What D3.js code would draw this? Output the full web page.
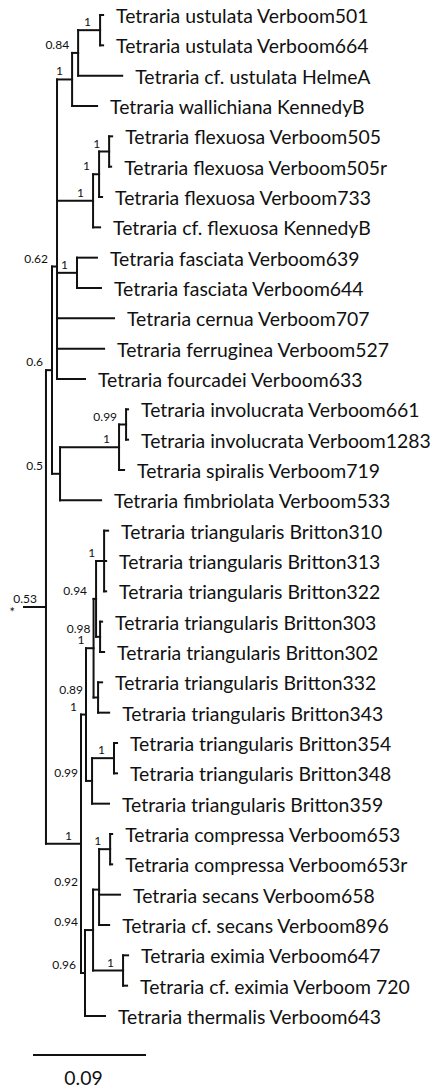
<!DOCTYPE html>
<html>
<head>
<meta charset="utf-8">
<script src="https://cdn.jsdelivr.net/npm/d3@7"></script>
<style>
  body { margin: 0; background: #fff; }
  text { font-family: Lato, "Noto Sans", sans-serif; fill: #111; }
</style>
</head>
<body>
<div id="chart"></div>
<script>
// tree as parent table (pre-order, child order = drawing order)
const nodeIds = [
  "root", "A", "B", "C", "E", "N084", "Nust",
  "Tetraria ustulata Verboom501", "Tetraria ustulata Verboom664",
  "Tetraria cf. ustulata HelmeA", "Tetraria wallichiana KennedyB",
  "F", "n2", "n1",
  "Tetraria flexuosa Verboom505", "Tetraria flexuosa Verboom505r",
  "Tetraria flexuosa Verboom733", "Tetraria cf. flexuosa KennedyB",
  "Nfas", "Tetraria fasciata Verboom639", "Tetraria fasciata Verboom644",
  "Tetraria cernua Verboom707", "Tetraria ferruginea Verboom527", "Tetraria fourcadei Verboom633",
  "D", "Ninv", "N099",
  "Tetraria involucrata Verboom661", "Tetraria involucrata Verboom1283",
  "Tetraria spiralis Verboom719", "Tetraria fimbriolata Verboom533",
  "G", "T", "U", "W", "Ntri1",
  "Tetraria triangularis Britton310", "Tetraria triangularis Britton313", "Tetraria triangularis Britton322",
  "N098", "Tetraria triangularis Britton303", "Tetraria triangularis Britton302",
  "X", "Tetraria triangularis Britton332", "Tetraria triangularis Britton343",
  "V", "Ntri354", "Tetraria triangularis Britton354", "Tetraria triangularis Britton348",
  "Tetraria triangularis Britton359",
  "K", "L", "M", "Ncomp",
  "Tetraria compressa Verboom653", "Tetraria compressa Verboom653r",
  "Tetraria secans Verboom658", "Tetraria cf. secans Verboom896",
  "Nexi", "Tetraria eximia Verboom647", "Tetraria cf. eximia Verboom 720",
  "Tetraria thermalis Verboom643"
];
const parentIds = [
  "", "root", "A", "B", "C", "E", "N084",
  "Nust", "Nust",
  "N084", "E",
  "C", "F", "n2",
  "n1", "n1",
  "n2", "F",
  "C", "Nfas", "Nfas",
  "C", "C", "C",
  "B", "D", "Ninv",
  "N099", "N099",
  "Ninv", "D",
  "A", "G", "T", "U", "W",
  "Ntri1", "Ntri1", "Ntri1",
  "W", "N098", "N098",
  "U", "X", "X",
  "T", "V", "Ntri354", "Ntri354",
  "V",
  "G", "K", "L", "M",
  "Ncomp", "Ncomp",
  "M", "M",
  "L", "Nexi", "Nexi",
  "K"
];
const branchLengths = [
  0, 0.0175, 0.0048, 0.0040, 0.0120, 0.0048, 0.0175,
  0.0024, 0.0024,
  0.0351, 0.0199,
  0.0287, 0.0048, 0.0080,
  0.0024, 0.0016,
  0.0024, 0.0056,
  0.0159, 0.0159, 0.0191,
  0.0454, 0.0375, 0.0223,
  0.0064, 0.0470, 0.0056,
  0.0016, 0.0016,
  0.0040, 0.0327,
  0.0279, 0.0040, 0.0060, 0.0020, 0.0064,
  0.0032, 0.0016, 0.0016,
  0.0032, 0.0016, 0.0032,
  0.0036, 0.0032, 0.0088,
  0.0048, 0.0175, 0.0024, 0.0024,
  0.0135,
  0.0032, 0.0064, 0.0048, 0.0088,
  0.0016, 0.0016,
  0.0167, 0.0080,
  0.0239, 0.0040, 0.0032,
  0.0159
];
const supportValues = [
  "*", "0.53", "0.6", "0.62", "1", "0.84", "1",
  "", "",
  "", "",
  "1", "1", "1",
  "", "",
  "", "",
  "1", "", "",
  "", "", "",
  "0.5", "1", "0.99",
  "", "",
  "", "",
  "1", "1", "1", "0.94", "1",
  "", "", "",
  "0.98", "", "",
  "0.89", "", "",
  "0.99", "1", "", "",
  "",
  "0.96", "0.94", "0.92", "1",
  "", "",
  "", "",
  "1", "", "",
  ""
];
const scaleBarValue = 0.09;
const scaleBarLabel = "0.09";

const width = 437, height = 1088;

const svg = d3.select("#chart").append("svg")
    .attr("width", width)
    .attr("height", height);

const table = nodeIds.map((id, i) => ({
  id: id,
  parent: parentIds[i] || null,
  length: branchLengths[i],
  support: supportValues[i]
}));

const root = d3.stratify()
    .id(d => d.id)
    .parentId(d => d.parent)(table);

root.eachBefore(n => {
  n.dist = (n.parent ? n.parent.dist : 0) + n.data.length;
});

const leaves = root.leaves();

const xScale = d3.scaleLinear()
    .domain([0, scaleBarValue])
    .range([24, 137]);

const yScale = d3.scalePoint()
    .domain(leaves.map(d => d.id))
    .range([15, 1016]);

// internal nodes sit at the mean of their children
root.eachAfter(n => {
  n.px = xScale(n.dist);
  n.py = n.children ? d3.mean(n.children, c => c.py) : yScale(n.id);
});

const g = svg.append("g")
    .attr("stroke", "#111")
    .attr("stroke-width", 2)
    .attr("stroke-linecap", "square");

// horizontal branches
g.selectAll(".branch")
  .data(root.descendants().filter(n => n.parent))
  .join("line")
    .attr("class", "branch")
    .attr("x1", d => d.parent.px)
    .attr("x2", d => d.px)
    .attr("y1", d => d.py)
    .attr("y2", d => d.py);

// vertical connectors
const internals = root.descendants().filter(n => n.children && n.children.length > 1);
g.selectAll(".connector")
  .data(internals)
  .join("line")
    .attr("class", "connector")
    .attr("x1", d => d.px)
    .attr("x2", d => d.px)
    .attr("y1", d => d.children[0].py)
    .attr("y2", d => d.children[d.children.length - 1].py);

// taxon names
svg.append("g")
  .selectAll("text")
  .data(leaves)
  .join("text")
    .attr("x", d => d.px + 13)
    .attr("y", d => d.py + 8)
    .attr("font-size", 19.4)
    .text(d => d.id);

// posterior support, pushed left of any connector it would sit on
const vlines = internals.map(n => ({
  x: n.px,
  y1: n.children[0].py,
  y2: n.children[n.children.length - 1].py
}));

svg.append("g")
  .selectAll("text")
  .data(root.descendants().filter(n => n.parent && n.data.support))
  .join("text")
    .attr("y", d => d.py - 4)
    .attr("text-anchor", "end")
    .attr("font-size", 12)
    .text(d => d.data.support)
    .each(function(d) {
      const w = this.getComputedTextLength();
      const top = d.py - 13, bottom = d.py - 3;
      let end = d.px - 9;
      for (let k = 0; k < 10; k++) {
        const hit = vlines.filter(v => v.x < d.px && v.x >= end - w - 1 && v.x <= end + 3 &&
                                       v.y2 >= top && v.y1 <= bottom);
        if (!hit.length) break;
        end = d3.min(hit, v => v.x) - 3;
      }
      d3.select(this).attr("x", end);
    });

svg.append("text")
    .attr("x", root.px - 9)
    .attr("y", root.py + 10)
    .attr("text-anchor", "end")
    .attr("font-size", 13)
    .text(root.data.support);

// scale bar
const barX = 33, barY = 1055;
const barLen = xScale(scaleBarValue) - xScale(0);
svg.append("line")
    .attr("x1", barX)
    .attr("x2", barX + barLen)
    .attr("y1", barY)
    .attr("y2", barY)
    .attr("stroke", "#111")
    .attr("stroke-width", 2);

svg.append("text")
    .attr("x", barX + barLen / 2 - 6)
    .attr("y", barY + 30)
    .attr("text-anchor", "middle")
    .attr("font-size", 19.4)
    .text(scaleBarLabel);
</script>
</body>
</html>
